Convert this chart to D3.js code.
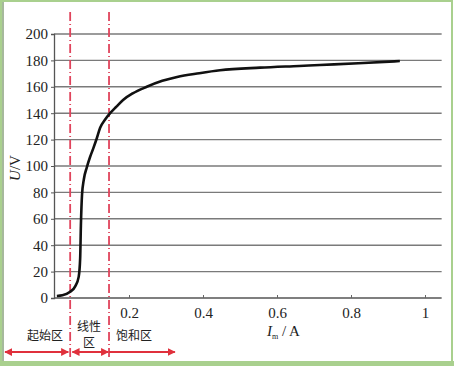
<!DOCTYPE html>
<html>
<head>
<meta charset="utf-8">
<script src="https://cdn.jsdelivr.net/npm/d3@7"></script>
<style>
  body { margin: 0; background: #fff; }
  svg { display: block; }
</style>
</head>
<body>
<svg id="chart" width="454" height="366"></svg>
<script>
// magnetizing current vs voltage
const currentA = [0.005, 0.02, 0.04, 0.055, 0.064, 0.068, 0.070, 0.073, 0.078, 0.086, 0.095, 0.103, 0.113, 0.122, 0.135, 0.149, 0.166, 0.184, 0.21, 0.248, 0.29, 0.33, 0.39, 0.446, 0.554, 0.66, 0.716, 0.82, 0.932];
const voltageV = [1.5, 2, 4.5, 9, 16, 30, 55, 78, 90, 99, 107, 113, 121, 129, 135, 140, 145, 150, 155, 160, 164.5, 167.5, 170.3, 172.5, 174.5, 175.8, 176.5, 177.8, 179.5];
const yTicks = [0, 20, 40, 60, 80, 100, 120, 140, 160, 180, 200];
const xTicks = [0.2, 0.4, 0.6, 0.8, 1];
const xTickLabels = ["0.2", "0.4", "0.6", "0.8", "1"];
const regionBounds = [0.041, 0.146];
const regionNames = [["起始区"], ["线性", "区"], ["饱和区"]];
const regionArrows = [[-0.135, 0.036, true], [0.047, 0.144, true], [0.146, 0.324, false]];

const svg = d3.select("#chart");
const width = +svg.attr("width");
const height = +svg.attr("height");
const margin = { top: 34, right: 13, bottom: 68, left: 55 };

const x = d3.scaleLinear().domain([0, 1]).range([margin.left, margin.left + 370]);
const y = d3.scaleLinear().domain([0, 200]).range([height - margin.bottom, margin.top]);
const xEnd = x(1.045);

// frame
svg.append("rect").attr("x", 1).attr("y", 1).attr("width", width - 3).attr("height", height - 4)
   .attr("fill", "none").attr("stroke", "#a9d08e").attr("stroke-width", 2);
svg.append("rect").attr("x", 0).attr("y", 361).attr("width", width).attr("height", 5).attr("fill", "#a9d08e");
svg.append("line").attr("x1", 3).attr("x2", 3).attr("y1", 2).attr("y2", 361)
   .attr("stroke", "#6b8a5a").attr("stroke-width", 1.2);

// grid
svg.append("g").selectAll("line").data(yTicks.filter(d => d > 0)).join("line")
   .attr("x1", x(0) - 1).attr("x2", xEnd)
   .attr("y1", d => y(d)).attr("y2", d => y(d))
   .attr("stroke", "#7a7a7a").attr("stroke-width", 1.4);

// y axis
const yAxis = svg.append("g").attr("transform", `translate(${x(0) - 1},0)`)
   .call(d3.axisLeft(y).tickValues(yTicks).tickSize(3).tickPadding(3));
yAxis.select(".domain").attr("stroke", "#555").attr("stroke-width", 1.3);
yAxis.selectAll(".tick line").attr("stroke", "#555");
yAxis.selectAll("text").attr("font-family", "Liberation Serif, serif").attr("font-size", 15).attr("fill", "#222");

// x axis
const xAxis = svg.append("g").attr("transform", `translate(0,${y(0)})`)
   .call(d3.axisBottom(x).tickValues(xTicks).tickFormat((d, i) => xTickLabels[i]).tickSize(-3).tickPadding(9));
xAxis.select(".domain").attr("d", `M${x(0) - 1},0H${xEnd}`).attr("stroke", "#555").attr("stroke-width", 1.3);
xAxis.selectAll(".tick line").attr("stroke", "#666");
xAxis.selectAll("text").attr("font-family", "Liberation Serif, serif").attr("font-size", 15).attr("fill", "#222");

// axis titles
const yTitle = svg.append("text").attr("transform", `translate(20,168) rotate(-90)`)
   .attr("text-anchor", "middle").attr("font-family", "Liberation Serif, serif").attr("font-size", 15).attr("fill", "#222");
yTitle.append("tspan").attr("font-style", "italic").text("U");
yTitle.append("tspan").text("/V");

const xTitle = svg.append("text").attr("x", 267).attr("y", 336)
   .attr("font-family", "Liberation Serif, serif").attr("font-size", 15).attr("fill", "#222");
xTitle.append("tspan").attr("font-style", "italic").text("I");
xTitle.append("tspan").attr("font-size", 8).attr("dy", 3).text("m");
xTitle.append("tspan").attr("dy", -3).text(" / A");

// region boundaries
svg.append("g").selectAll("line").data(regionBounds).join("line")
   .attr("x1", d => x(d)).attr("x2", d => x(d)).attr("y1", 12).attr("y2", 358)
   .attr("stroke", "#e0445c").attr("stroke-width", 1.8).attr("stroke-dasharray", "9,3,1,3");

// curve
const pts = currentA.map((d, i) => [d, voltageV[i]]);
svg.append("path").datum(pts)
   .attr("fill", "none").attr("stroke", "#111").attr("stroke-width", 2.6).attr("stroke-linejoin", "round")
   .attr("d", d3.line().x(d => x(d[0])).y(d => y(d[1])).curve(d3.curveMonotoneX));

// region labels
const labelX = [45, 89, 134];
regionNames.forEach((lines, i) => {
  const t = svg.append("text").attr("text-anchor", "middle")
     .attr("font-family", "Noto Sans CJK SC, sans-serif").attr("font-size", 12).attr("fill", "#222");
  const y0 = lines.length > 1 ? 331 : 340;
  lines.forEach((s, j) => t.append("tspan").attr("x", labelX[i]).attr("y", y0 + j * 16).text(s));
});

// arrows
const defs = svg.append("defs");
defs.append("marker").attr("id", "ah").attr("viewBox", "0 0 10 10").attr("refX", 9).attr("refY", 5)
   .attr("markerWidth", 8).attr("markerHeight", 8).attr("markerUnits", "userSpaceOnUse").attr("orient", "auto-start-reverse")
   .append("path").attr("d", "M0,0L10,5L0,10Z").attr("fill", "#e0303c");
svg.append("g").selectAll("line").data(regionArrows).join("line")
   .attr("x1", d => x(d[0])).attr("x2", d => x(d[1])).attr("y1", 352).attr("y2", 352)
   .attr("stroke", "#e0303c").attr("stroke-width", 2)
   .attr("marker-end", "url(#ah)")
   .attr("marker-start", d => d[2] ? "url(#ah)" : null);
</script>
</body>
</html>
